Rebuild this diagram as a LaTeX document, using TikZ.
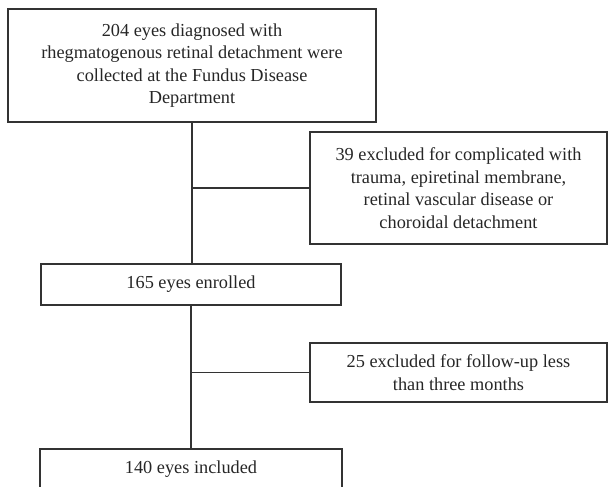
\documentclass[tikz,border=0pt]{standalone}
\usepackage{fontspec}
\setmainfont{Liberation Serif}
\begin{document}
\begin{tikzpicture}[x=1pt,y=-1pt]
\tikzset{
  box/.style={draw=black!80, line width=1.1pt, align=center, inner sep=0pt,
    font=\fontsize{18.3}{22.6}\selectfont, text=black!85},
  link/.style={draw=black!80, line width=1.1pt}
}
\useasboundingbox (0,0) rectangle (608,487);
\node[box, minimum width=368pt, minimum height=113pt] (top) at (192,65.5)
  {204 eyes diagnosed with\\rhegmatogenous retinal detachment were\\collected at the Fundus Disease\\Department};
\node[box, minimum width=297pt, minimum height=112pt] (ex1) at (458.5,188)
  {39 excluded for complicated with\\trauma, epiretinal membrane,\\retinal vascular disease or\\choroidal detachment};
\node[box, minimum width=300pt, minimum height=41pt] (enr) at (191,284.5)
  {165 eyes enrolled};
\node[box, minimum width=297pt, minimum height=59pt] (ex2) at (458.5,372.5)
  {25 excluded for follow-up less\\than three months};
\node[box, minimum width=302pt, minimum height=41pt] (inc) at (191,469.5)
  {140 eyes included};
\draw[link] (top.south) -- (top.south |- enr.north);
\draw[link] (enr.south) -- (enr.south |- inc.north);
\draw[link] (ex1.west) -- (ex1.west -| top.south);
\draw[link] (ex2.west) -- (ex2.west -| enr.south);
\end{tikzpicture}
\end{document}
